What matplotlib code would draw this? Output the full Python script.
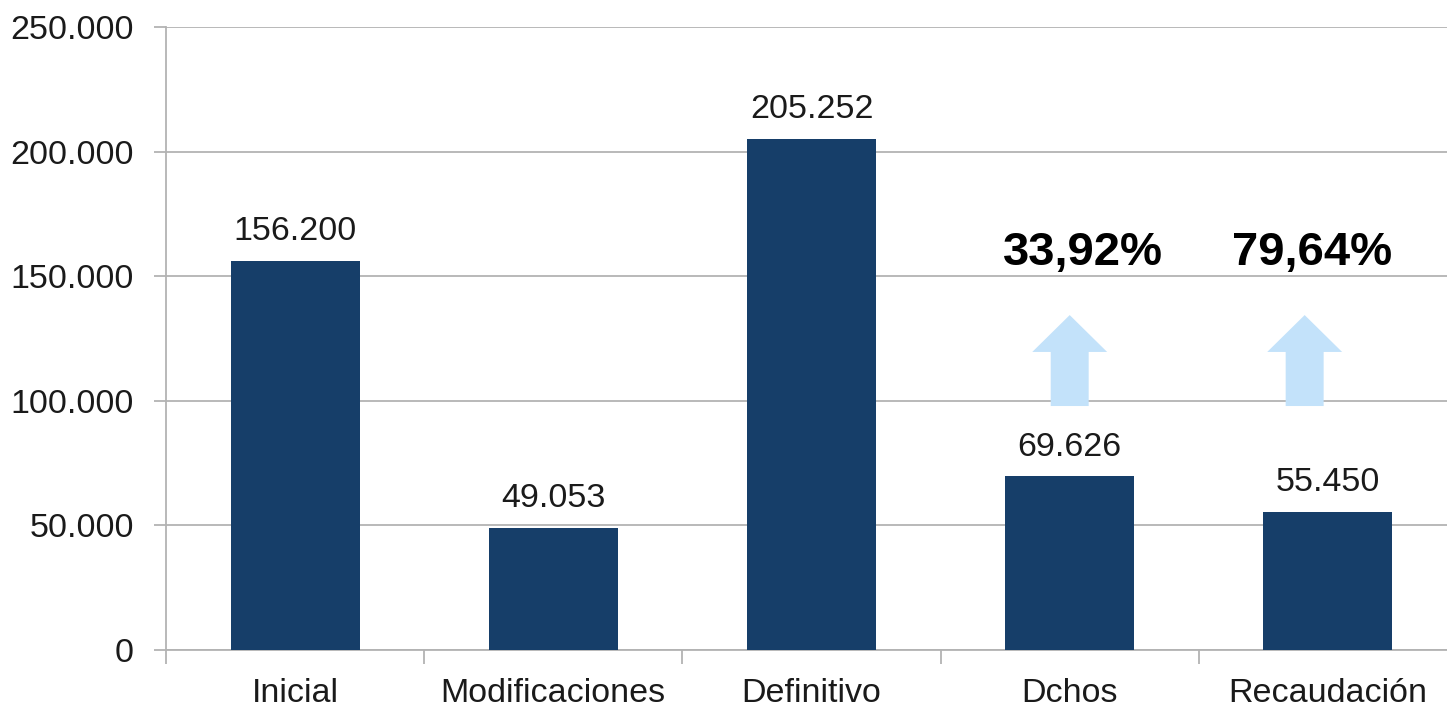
import matplotlib.pyplot as plt
import numpy as np
from matplotlib.patches import FancyArrow

# --- data ---
categorias = ['Inicial', 'Modificaciones', 'Definitivo', 'Dchos', 'Recaudación']
valores = [156200, 49053, 205252, 69626, 55450]
etiquetas = ['156.200', '49.053', '205.252', '69.626', '55.450']
porcentajes = ['33,92%', '79,64%']
pos_pct = [3.05, 3.94]
pos_flecha = [3.0, 3.91]

y_ticks = [0, 50000, 100000, 150000, 200000, 250000]
y_labels = ['0', '50.000', '100.000', '150.000', '200.000', '250.000']

bar_color = '#163E69'
arrow_color = '#C3E2FA'
grid_color = '#B3B3B3'
txt_color = '#1a1a1a'

plt.rcParams['font.family'] = ['Liberation Sans', 'DejaVu Sans']

fig = plt.figure(figsize=(14.47, 7.12), dpi=100)
W, H = 1447, 712
ax = fig.add_axes([166 / W, (H - 650) / H, (1457 - 166) / W, (650 - 27) / H])

x = np.arange(len(categorias))
ax.bar(x, valores, width=0.5, color=bar_color, zorder=3)

for xi, v, t in zip(x, valores, etiquetas):
    ax.text(xi, v + 8400, t, ha='center', va='baseline', fontsize=24.5, color=txt_color)

# flechas + porcentajes
for cx, px, txt in zip(pos_flecha, pos_pct, porcentajes):
    ax.add_patch(FancyArrow(cx, 97900, 0, 134400 - 97900, width=0.147,
                            head_width=0.29, head_length=134400 - 119600,
                            length_includes_head=True, color=arrow_color,
                            lw=0, zorder=4))
    ax.text(px, 159300, txt, ha='center', va='center',
            fontsize=34, fontweight='bold', color='black')

ax.set_xlim(-0.5, len(categorias) - 0.5)
ax.set_ylim(0, 250000)
ax.set_yticks(y_ticks)
ax.set_yticklabels(y_labels, fontsize=24.5, color=txt_color)
ax.yaxis.grid(True, color=grid_color, linewidth=1.3, zorder=0)

ax.set_xticks(np.arange(len(categorias) + 1) - 0.5)
ax.set_xticklabels([])
ax.set_xticks(x, minor=True)
ax.set_xticklabels(categorias, minor=True, fontsize=24.5, color=txt_color)
ax.tick_params(axis='x', which='minor', length=0, pad=20)
ax.tick_params(axis='x', which='major', length=10, width=1.3, color=grid_color)
ax.tick_params(axis='y', length=9, width=1.3, color=grid_color, pad=14)

for s in ['top', 'right']:
    ax.spines[s].set_visible(False)
for s in ['left', 'bottom']:
    ax.spines[s].set_color(grid_color)
    ax.spines[s].set_linewidth(1.3)

fig.savefig('out.png', dpi=100)
